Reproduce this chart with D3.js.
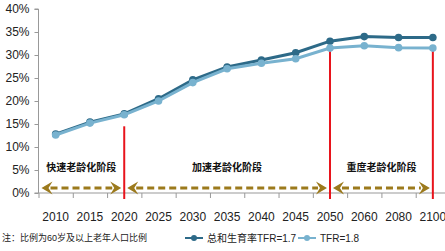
<!DOCTYPE html>
<html>
<head>
<meta charset="utf-8">
<script src="https://cdn.jsdelivr.net/npm/d3@7"></script>
<style>
  body { margin: 0; background: #fff; }
  text { font-family: "Liberation Sans Narrow", "Liberation Sans", "Noto Sans CJK SC", sans-serif; }
</style>
</head>
<body>
<svg id="chart" width="445" height="251"></svg>
<script>
// data
const years = ['2010', '2015', '2020', '2025', '2030', '2035', '2040', '2045', '2050', '2060', '2080', '2100'];
const tfr17 = [12.8, 15.4, 17.2, 20.5, 24.6, 27.4, 28.9, 30.5, 33.0, 34.0, 33.8, 33.8];
const tfr18 = [12.6, 15.2, 17.0, 20.0, 24.0, 27.0, 28.2, 29.2, 31.5, 32.0, 31.6, 31.5];
const yTicks = [0, 5, 10, 15, 20, 25, 30, 35, 40];
const seriesNames = ['总和生育率TFR=1.7', 'TFR=1.8'];
const stageNames = ['快速老龄化阶段', '加速老龄化阶段', '重度老龄化阶段'];
const stageBounds = [['2010', '2020'], ['2020', '2050'], ['2050', '2100']];
const redLines = [{ year: '2020', top: 14.5 }, { year: '2050', top: 33.0 }, { year: '2100', top: 31.5 }];
const note = '注：比例为60岁及以上老年人口比例';

const svg = d3.select('#chart');

const x = d3.scaleBand()
    .domain(years)
    .range([38.5, 450]);

const y = d3.scaleLinear()
    .domain([0, 40])
    .range([193, 9]);

const darkCol = '#2d6a88';
const lightCol = '#78b2cf';
const arrowCol = '#9c7a1c';

// y axis
const yAxis = svg.append('g')
    .attr('transform', 'translate(38.5,0)')
    .call(d3.axisLeft(y).tickValues(yTicks).tickSize(4).tickPadding(5)
      .tickFormat(d => d + '%'));
yAxis.select('.domain').attr('stroke', '#999').attr('d', 'M-4,' + y(40) + 'H0V' + y(0) + 'H-4');
yAxis.selectAll('.tick line').attr('stroke', '#999');
yAxis.selectAll('text').attr('fill', '#222').attr('font-size', 12);

// x axis
const xAxis = svg.append('g')
    .attr('transform', 'translate(0,' + y(0) + ')');
xAxis.append('line')
    .attr('x1', x.range()[0]).attr('x2', 445)
    .attr('stroke', '#999');
xAxis.selectAll('line.tk')
  .data(years)
  .enter().append('line')
    .attr('class', 'tk')
    .attr('x1', d => x(d) + 0.5).attr('x2', d => x(d) + 0.5)
    .attr('y1', 0).attr('y2', 5)
    .attr('stroke', '#999');
xAxis.selectAll('text')
  .data(years)
  .enter().append('text')
    .attr('x', d => x(d) + x.bandwidth() / 2)
    .attr('y', 28)
    .attr('text-anchor', 'middle')
    .attr('font-size', 12)
    .attr('fill', '#222')
    .text(d => d);

const cx = d => x(d) + x.bandwidth() / 2;

// stage arrows
function arrowHead(g, tip, yy, dir) {
  const p = d3.path();
  p.moveTo(tip, yy);
  p.lineTo(tip - dir * 11, yy - 6.5);
  p.lineTo(tip - dir * 7, yy);
  p.lineTo(tip - dir * 11, yy + 6.5);
  p.closePath();
  g.append('path').attr('d', p.toString()).attr('fill', arrowCol);
}
const ay = 188;
stageBounds.forEach((b, i) => {
  const x0 = i === 0 ? x(b[0]) + 3 : cx(b[0]) + 3;
  const x1 = cx(b[1]) - 3;
  const g = svg.append('g');
  g.append('line')
      .attr('x1', x0 + 9).attr('x2', x1 - 9)
      .attr('y1', ay).attr('y2', ay)
      .attr('stroke', arrowCol)
      .attr('stroke-width', 3)
      .attr('stroke-dasharray', '7,4');
  arrowHead(g, x0, ay, -1);
  arrowHead(g, x1, ay, 1);
  g.append('text')
      .attr('x', (x0 + x1) / 2)
      .attr('y', 171)
      .attr('text-anchor', 'middle')
      .attr('font-size', 10)
      .attr('font-weight', 'bold')
      .attr('fill', '#111')
      .text(stageNames[i]);
});

// red stage lines
svg.selectAll('line.red')
  .data(redLines)
  .enter().append('line')
    .attr('class', 'red')
    .attr('x1', d => cx(d.year)).attr('x2', d => cx(d.year))
    .attr('y1', d => y(d.top)).attr('y2', y(0) + 6)
    .attr('stroke', '#e8141c')
    .attr('stroke-width', 2);

// series
const line = d3.line()
    .x((d, i) => cx(years[i]))
    .y(d => y(d));

[[tfr17, darkCol], [tfr18, lightCol]].forEach(([vals, col]) => {
  svg.append('path')
      .datum(vals)
      .attr('d', line)
      .attr('fill', 'none')
      .attr('stroke', col)
      .attr('stroke-width', 3);
  svg.selectAll(null)
    .data(vals)
    .enter().append('circle')
      .attr('cx', (d, i) => cx(years[i]))
      .attr('cy', d => y(d))
      .attr('r', 3.8)
      .attr('fill', col);
});

// note
svg.append('text')
    .attr('x', 2).attr('y', 241)
    .attr('font-size', 9)
    .attr('fill', '#222')
    .text(note);

// legend
const legend = svg.append('g');
[[185, darkCol], [298, lightCol]].forEach(([lx, col], i) => {
  legend.append('line')
      .attr('x1', lx).attr('x2', lx + 18)
      .attr('y1', 238).attr('y2', 238)
      .attr('stroke', col).attr('stroke-width', 2);
  legend.append('circle')
      .attr('cx', lx + 9).attr('cy', 238).attr('r', 3)
      .attr('fill', col);
  legend.append('text')
      .attr('x', lx + 22).attr('y', 242)
      .attr('font-size', 10)
      .attr('fill', '#222')
      .text(seriesNames[i]);
});
</script>
</body>
</html>
